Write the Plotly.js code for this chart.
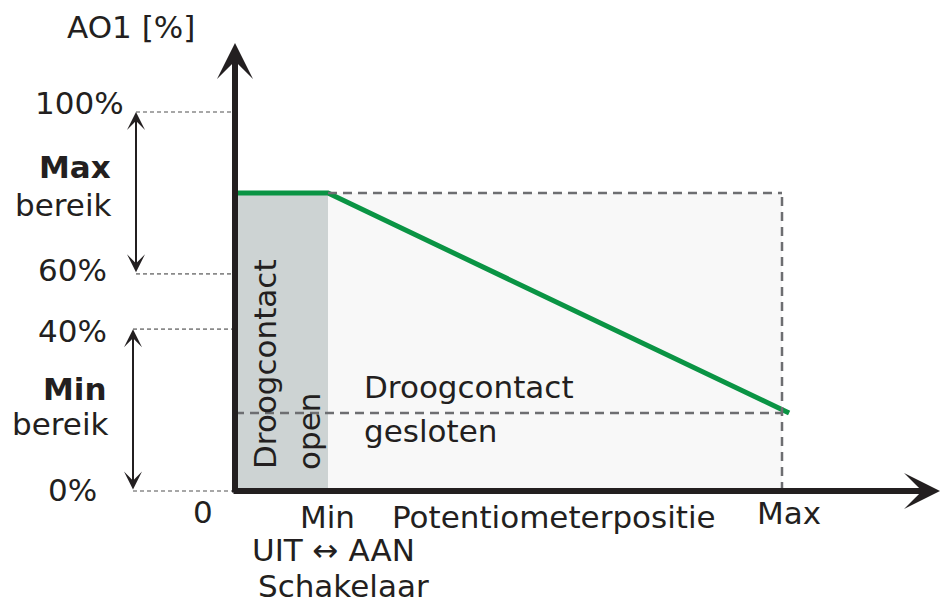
<!DOCTYPE html>
<html>
<head>
<meta charset="utf-8">
<script src="https://cdn.plot.ly/plotly-3.0.1.min.js"></script>
<style>html,body{margin:0;padding:0;background:#fff}#chart{width:947px;height:606px}</style>
</head>
<body>
<div id="chart"></div>
<script>
// ---- data (schematic units: x 0..100 = 0..Max, y 0..100 = 0%..100%) ----
const potPos = [0, 17, 101.3];          // potentiometer position: 0, Min, just past Max
const ao1Out = [78.6, 78.6, 20.6];      // AO1 output level
const xMin = 17, xMax = 100;
const yTickVals = [100, 57.3, 42.7, 0];
const yTickText = ['100%', '60%', '40%', '0%'];
const levelLow = 20.6;                   // dashed level reached at Max

// ---- helpers to place decorations in data units ----
const SX = 5.47, SY = 3.79, X0 = 235, Y0 = 491;
const px = v => (v - X0) / SX;
const py = v => (Y0 - v) / SY;

const font = {family: 'DejaVu Sans, Verdana, sans-serif', size: 31, color: '#231f20'};
const ann = [];
function txt(t, x, y, xa, ya, extra) {
  ann.push(Object.assign({text: t, x: x, y: y, xref: 'x', yref: 'y', xanchor: xa, yanchor: ya,
    showarrow: false, font: font}, extra || {}));
}
// y tick labels (left side)
const yLabelRight = [126, 109, 109, 99];
const yLabelPix = [103, 270, 331, 490];
yTickText.forEach((t, i) => txt(t, px(yLabelRight[i]), py(yLabelPix[i]), 'right', 'middle'));
txt('AO1 [%]', px(131), py(27), 'center', 'middle');
txt('<b>Max</b>', px(113), py(167), 'right', 'middle');
txt('bereik', px(113), py(205), 'right', 'middle');
txt('<b>Min</b>', px(109), py(389), 'right', 'middle');
txt('bereik', px(110), py(424), 'right', 'middle');
// x labels
txt('0', px(203), py(512), 'center', 'middle');
txt('Min', xMin, py(517), 'center', 'middle');
txt('Potentiometerpositie', px(390), py(517), 'left', 'middle');
txt('Max', px(789), py(513), 'center', 'middle');
txt('UIT \u2194 AAN', px(333), py(550), 'center', 'middle');
txt('Schakelaar', px(343), py(586), 'center', 'middle');
// region texts
txt('Droogcontact', px(265), py(364), 'center', 'middle', {textangle: -90});
txt('open', px(309), py(432), 'center', 'middle', {textangle: -90});
txt('Droogcontact', px(362), py(387), 'left', 'middle');
txt('gesloten', px(362), py(431), 'left', 'middle');

// axis arrows
ann.push({x: 0, y: py(43), ax: 0, ay: py(494), xref: 'x', yref: 'y', axref: 'x', ayref: 'y', text: '',
  showarrow: true, arrowhead: 3, arrowwidth: 6, arrowsize: 1, arrowcolor: '#231f20', standoff: 0});
ann.push({x: px(940), y: 0, ax: px(232), ay: 0, xref: 'x', yref: 'y', axref: 'x', ayref: 'y', text: '',
  showarrow: true, arrowhead: 3, arrowwidth: 6, arrowsize: 1, arrowcolor: '#231f20', standoff: 0});
// range double arrows
[[136, yTickVals[0], yTickVals[1]], [133, yTickVals[2], yTickVals[3]]].forEach(a => {
  ann.push({x: px(a[0]), y: a[1], ax: px(a[0]), ay: a[2], xref: 'x', yref: 'y', axref: 'x', ayref: 'y', text: '',
    showarrow: true, arrowside: 'end+start', arrowhead: 3, startarrowhead: 3, arrowwidth: 2, arrowsize: 1.5,
    startarrowsize: 1.5, arrowcolor: '#231f20', standoff: 0, startstandoff: 0});
});

const shapes = [];
// shaded regions
shapes.push({type: 'rect', xref: 'x', yref: 'y', x0: 0, x1: xMin, y0: 0, y1: ao1Out[0], fillcolor: '#cdd3d3', line: {width: 0}, layer: 'below'});
shapes.push({type: 'rect', xref: 'x', yref: 'y', x0: xMin, x1: xMax, y0: 0, y1: ao1Out[0], fillcolor: '#f8f8f8', line: {width: 0}, layer: 'below'});
// thin dashed guides to tick levels
const guideStart = [136, 136, 133, 133];
yTickVals.forEach((v, i) => shapes.push({type: 'line', xref: 'x', yref: 'y', x0: px(guideStart[i]), x1: 0, y0: v, y1: v,
  line: {color: '#8a8a8a', width: 1.6, dash: '4px,3px'}}));
// thicker dashed lines in plot
const dl = {color: '#6d6e71', width: 2.5, dash: '9px,6px'};
shapes.push({type: 'line', xref: 'x', yref: 'y', x0: xMin, x1: xMax, y0: ao1Out[0], y1: ao1Out[0], line: dl});
shapes.push({type: 'line', xref: 'x', yref: 'y', x0: xMax, x1: xMax, y0: 0, y1: ao1Out[0], line: dl});
shapes.push({type: 'line', xref: 'x', yref: 'y', x0: 0, x1: xMax, y0: levelLow, y1: levelLow, line: dl});

const traces = [{x: potPos, y: ao1Out, type: 'scatter', mode: 'lines', line: {color: '#0a9444', width: 5}, hoverinfo: 'skip'}];

const layout = {
  width: 947, height: 606, margin: {l: 0, r: 0, t: 0, b: 0},
  paper_bgcolor: '#fff', plot_bgcolor: 'rgba(0,0,0,0)', showlegend: false,
  xaxis: {range: [px(0), px(947)], visible: false, fixedrange: true},
  yaxis: {range: [py(606), py(0)], visible: false, fixedrange: true},
  shapes: shapes, annotations: ann
};
Plotly.newPlot('chart', traces, layout, {staticPlot: true});
</script>
</body>
</html>
